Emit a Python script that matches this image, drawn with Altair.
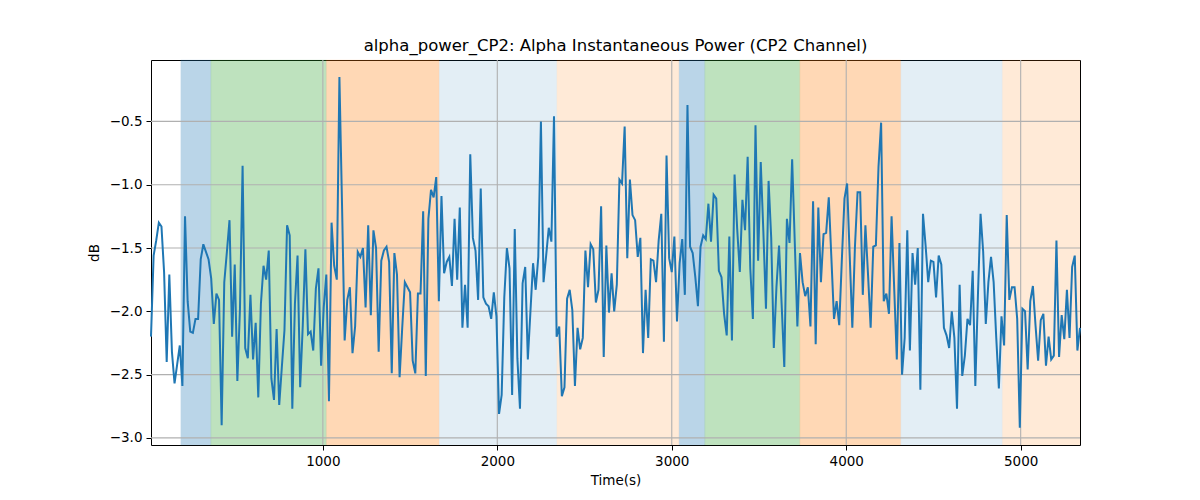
import altair as alt
import pandas as pd

# ---- data ----
T0 = 15
DT = 15
power_db = [
    -2.20, -1.56, -1.44, -1.30, -1.33, -1.69, -2.40, -1.71, -2.32, -2.57,
    -2.42, -2.27, -2.59, -1.25, -1.92, -2.16, -2.17, -2.06, -2.06, -1.59,
    -1.47, -1.53, -1.59, -1.74, -2.10, -1.86, -1.91, -2.90, -1.77, -1.53,
    -1.28, -2.20, -1.63, -2.55, -1.98, -0.85, -2.29, -2.37, -1.87, -2.38,
    -2.09, -2.68, -1.94, -1.64, -1.75, -1.52, -2.53, -2.70, -2.14, -2.74,
    -2.44, -2.15, -1.32, -1.40, -2.77, -1.94, -1.56, -2.60, -2.11, -1.51,
    -2.18, -2.16, -2.31, -1.82, -1.66, -2.43, -1.97, -1.71, -2.71, -1.30,
    -1.64, -1.75, -0.15, -1.16, -2.23, -1.91, -1.81, -2.33, -2.12, -1.53,
    -1.57, -1.50, -1.97, -1.32, -2.03, -1.36, -1.50, -2.32, -1.60, -1.52,
    -1.49, -1.61, -2.49, -1.54, -1.71, -2.52, -2.13, -1.77, -1.81, -1.85,
    -2.39, -2.49, -1.86, -1.86, -1.21, -2.51, -1.27, -1.04, -1.10, -0.94,
    -1.92, -1.09, -1.70, -1.61, -1.57, -1.80, -1.27, -1.75, -1.18, -2.13,
    -1.79, -2.13, -0.76, -1.42, -1.52, -1.91, -1.03, -1.89, -1.94, -1.96,
    -2.06, -1.85, -2.04, -2.81, -2.66, -1.89, -1.50, -1.66, -2.66, -1.35,
    -2.37, -2.77, -1.78, -1.65, -2.38, -2.00, -1.62, -1.83, -1.57, -0.50,
    -1.77, -1.56, -1.34, -1.45, -0.46, -2.20, -2.12, -2.67, -2.60, -1.90,
    -1.83, -1.99, -2.59, -2.13, -2.30, -2.21, -1.52, -1.81, -1.47, -1.51,
    -1.93, -1.83, -1.17, -2.36, -1.48, -2.01, -1.70, -2.00, -1.79, -0.96,
    -0.99, -0.54, -1.58, -0.96, -1.24, -1.28, -1.57, -1.42, -2.33, -1.83,
    -2.21, -1.59, -1.60, -1.77, -1.44, -1.23, -2.24, -0.77, -1.58, -1.69,
    -1.41, -2.08, -1.62, -1.43, -1.87, -0.37, -1.49, -1.54, -1.73, -1.96,
    -1.49, -1.40, -1.43, -1.15, -1.45, -1.08, -1.11, -1.68, -1.73, -2.02,
    -2.19, -1.41, -2.23, -0.92, -1.35, -1.69, -1.12, -1.36, -0.78, -1.66,
    -2.06, -0.53, -1.60, -0.82, -1.37, -1.98, -0.97, -1.42, -2.29, -1.81,
    -1.48, -1.95, -2.44, -1.27, -1.46, -0.80, -1.45, -2.12, -1.54, -1.77,
    -1.88, -1.81, -2.12, -1.13, -2.26, -1.18, -1.77, -1.39, -1.38, -1.10,
    -1.58, -2.06, -1.92, -2.11, -1.59, -1.11, -0.99, -1.56, -2.13, -1.49,
    -1.06, -1.06, -1.87, -1.32, -1.71, -2.13, -1.49, -1.48, -0.86, -0.51,
    -1.92, -1.86, -2.02, -1.25, -1.82, -2.38, -1.46, -2.50, -2.21, -1.36,
    -2.31, -1.54, -1.79, -1.50, -2.62, -1.23, -1.48, -1.77, -1.60, -1.61,
    -1.89, -1.56, -1.63, -2.13, -2.19, -2.29, -2.00, -2.21, -2.77, -1.79,
    -2.51, -2.35, -2.06, -2.11, -1.68, -2.59, -1.87, -1.23, -1.53, -2.10,
    -1.77, -1.57, -1.77, -2.21, -2.61, -2.04, -2.27, -1.24, -1.91, -1.81,
    -1.81, -2.06, -2.92, -1.98, -2.00, -2.46, -1.92, -1.80, -2.11, -2.39,
    -2.07, -2.02, -2.43, -2.20, -2.38, -2.35, -1.44, -2.36, -2.03, -2.22,
    -1.83, -2.21, -1.65, -1.56, -2.31, -2.13,
]
time_s = [T0 + i * DT for i in range(len(power_db))]

band_start = [186, 358, 1020, 1666, 2341, 3042, 3189, 3734, 4312, 4895]
band_end = [358, 1020, 1666, 2341, 3042, 3189, 3734, 4312, 4895, 5340]
band_color = ["#1f77b4", "#2ca02c", "#ff7f0e", "#1f77b4", "#ff7f0e",
              "#1f77b4", "#2ca02c", "#ff7f0e", "#1f77b4", "#ff7f0e"]
band_alpha = [0.3, 0.3, 0.3, 0.12, 0.16, 0.3, 0.3, 0.3, 0.12, 0.16]

x_ticks = [1000, 2000, 3000, 4000, 5000]
y_ticks = [-3.0, -2.5, -2.0, -1.5, -1.0, -0.5]

X_DOMAIN = [time_s[0], time_s[-1]]
Y_DOMAIN = [-3.056, -0.015]

line_df = pd.DataFrame({"t": time_s, "v": power_db})
band_df = pd.DataFrame({"s": band_start, "e": band_end,
                        "c": band_color, "a": band_alpha})
xg_df = pd.DataFrame({"t": x_ticks})
yg_df = pd.DataFrame({"v": y_ticks})

FONT = "DejaVu Sans"
xscale = alt.Scale(domain=X_DOMAIN, nice=False, zero=False)
yscale = alt.Scale(domain=Y_DOMAIN, nice=False, zero=False)

xaxis = alt.Axis(values=x_ticks, format="d", grid=False, title="Time(s)",
                 tickSize=5, tickColor="black", domain=False,
                 labelPadding=4, titlePadding=6,
                 labelFont=FONT, titleFont=FONT, labelFontSize=13.5,
                 titleFontSize=13.5, labelColor="black", titleColor="black",
                 titleFontWeight="normal")
yaxis = alt.Axis(values=y_ticks, format=".1f", grid=False, title="dB",
                 tickSize=5, tickColor="black", domain=False,
                 labelPadding=4, titlePadding=8,
                 labelFont=FONT, titleFont=FONT, labelFontSize=13.5,
                 titleFontSize=13.5, labelColor="black", titleColor="black",
                 titleFontWeight="normal")

bands = alt.Chart(band_df).mark_rect(strokeWidth=1).encode(
    x=alt.X("s:Q", scale=xscale, axis=xaxis),
    x2="e:Q",
    color=alt.Color("c:N", scale=None),
    stroke=alt.Color("c:N", scale=None),
    opacity=alt.Opacity("a:Q", scale=None),
    strokeOpacity=alt.StrokeOpacity("a:Q", scale=None),
)

xgrid = alt.Chart(xg_df).mark_rule(color="#b0b0b0", strokeWidth=1.1).encode(
    x=alt.X("t:Q", scale=xscale)
)
ygrid = alt.Chart(yg_df).mark_rule(color="#b0b0b0", strokeWidth=1.1).encode(
    y=alt.Y("v:Q", scale=yscale, axis=yaxis)
)

line = alt.Chart(line_df).mark_line(color="#1f77b4", strokeWidth=2).encode(
    x=alt.X("t:Q", scale=xscale),
    y=alt.Y("v:Q", scale=yscale),
)

chart = alt.layer(bands, xgrid, ygrid, line).properties(
    width=929,
    height=385,
    background="white",
    title=alt.TitleParams(
        "alpha_power_CP2: Alpha Instantaneous Power (CP2 Channel)",
        anchor="middle", fontSize=16.5, font=FONT, fontWeight="normal",
        color="black", offset=-8, baseline="alphabetic",
    ),
    autosize=alt.AutoSizeParams(type="none"),
    padding={"left": 143, "top": 52, "right": 112, "bottom": 47},
).configure_view(
    stroke="black", strokeWidth=1
)

chart.save("out.html", embed_options={"renderer": "svg", "actions": False})
